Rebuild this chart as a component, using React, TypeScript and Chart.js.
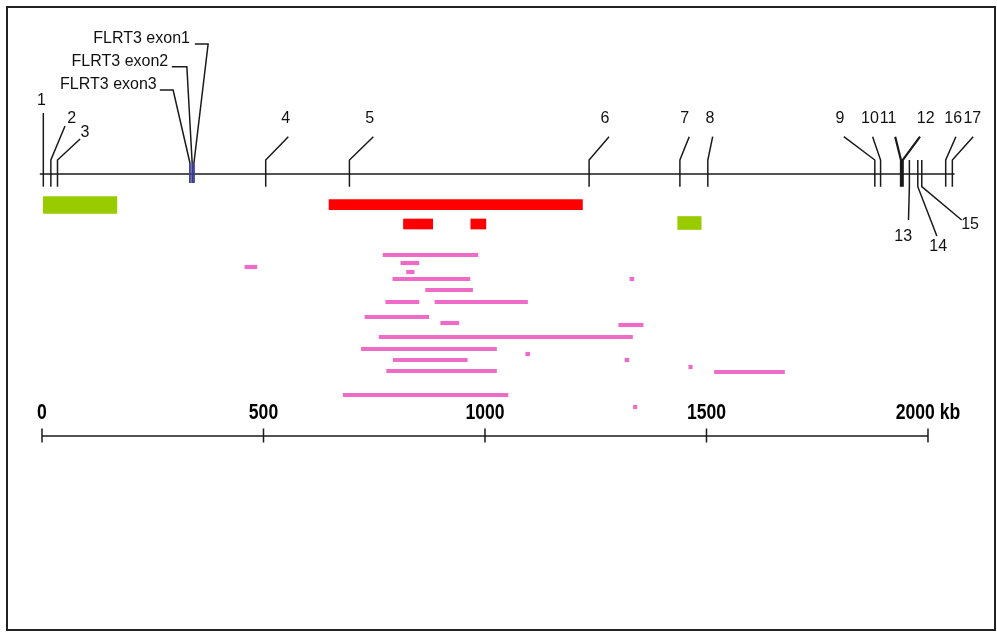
import React, { useEffect, useRef } from "react";
import { Chart, registerables } from "chart.js";
Chart.register(...registerables);

// ---- scale ranges (kb along x, track lanes along y) ----
const KB_MIN = -94.8;
const KB_MAX = 2155.8;
const LANE_MIN = 0;
const LANE_MAX = 63.5;

// ---- backbone ----
const backboneKb = [-5, 2060];
const backboneLane = 17.4;

// ---- numbered markers ----
const markerNames = ["1", "2", "3", "4", "5", "6", "7", "8", "9", "10", "11", "12", "13", "14", "15", "16", "17"];
const markerKb = [3, 20, 35, 505, 694, 1235, 1440, 1503, 1880, 1893, 1939, 1943, 1958, 1977, 1986, 2040, 2055];
const markerTipKb = [3, 52, 86, 556, 748, 1280, 1461, 1514, 1810, 1875, 1926, 1982, 1956, 2020, 2076, 2063, 2102];
const markerLabelKb = [-1, 67, 97, 550, 740, 1271, 1451, 1508, 1801, 1869, 1910, 1995, 1944, 2023, 2095, 2057, 2100];
const markerSide = ["up", "up", "up", "up", "up", "up", "up", "up", "up", "up", "up", "up", "down", "down", "down", "up", "up"];
const markerTipLane = [11.3, 12.6, 13.9, 13.67, 13.67, 13.67, 13.67, 13.67, 13.67, 13.67, 13.67, 13.67, 22.0, 23.6, 22.0, 13.67, 13.67];
const markerLabelLane = [10.1, 11.9, 13.25, 11.9, 11.9, 11.9, 11.9, 11.9, 11.9, 11.9, 11.9, 11.9, 23.7, 24.7, 22.5, 11.9, 11.9];
const stemTopLane = 16.0;
const stemBottomLane = 18.67;

// ---- FLRT3 exons ----
const exonNames = ["FLRT3 exon1", "FLRT3 exon2", "FLRT3 exon3"];
const exonKb = [343, 339, 334];
const exonElbowKb = [375, 327, 296];
const exonLeaderEndKb = [345, 293, 266];
const exonLabelKb = [334, 285, 259];
const exonLeaderLane = [4.4, 6.67, 9.0];
const exonTopLane = 16.3;
const exonBottomLane = 18.3;

// ---- bars (kb ranges) ----
const greenWideStart = [3];
const greenWideEnd = [169];
const greenWideLane = [20.5];
const greenSmallStart = [1435];
const greenSmallEnd = [1488];
const greenSmallLane = [22.3];
const redStart = [648, 816, 968];
const redEnd = [1220, 882, 1002];
const redLane = [20.47, 22.4, 22.4];
const pinkStart = [770, 810, 458, 823, 792, 1327, 866, 776, 887, 729, 900, 1302, 761, 721, 1092, 793, 1316, 778, 1460, 1518, 680, 1335];
const pinkEnd = [984, 851, 485, 840, 966, 1336, 972, 851, 1096, 873, 941, 1357, 1333, 1026, 1101, 960, 1325, 1026, 1468, 1676, 1052, 1343];
const pinkLane = [25.5, 26.3, 26.7, 27.2, 27.9, 27.9, 29.0, 30.2, 30.2, 31.7, 32.3, 32.5, 33.7, 34.9, 35.4, 36.0, 36.0, 37.1, 36.7, 37.2, 39.5, 40.7];

// ---- kb scale bar ----
const axisTicks = [0, 500, 1000, 1500, 2000];
const axisTickLabels = ["0", "500", "1000", "1500", "2000 kb"];
const axisLane = 43.6;
const axisTickTop = 42.85;
const axisTickBottom = 44.25;
const axisLabelLane = 41.3;

const toBars = (s: number[], e: number[], l: number[]) => s.map((v, i) => ({ x: [v, e[i]], y: l[i] }));

const mapPlugin = {
  id: "genomeMap",
  afterDatasetsDraw(chart: any) {
    const ctx = chart.ctx as CanvasRenderingContext2D;
    const xs = chart.scales.x;
    const ys = chart.scales.y;
    const X = (v: number) => xs.getPixelForValue(v);
    const Y = (v: number) => ys.getPixelForValue(v);
    ctx.save();
    ctx.lineCap = "butt";
    // backbone
    ctx.strokeStyle = "#1a1a1a";
    ctx.lineWidth = 1.6;
    ctx.beginPath();
    ctx.moveTo(X(backboneKb[0]), Y(backboneLane));
    ctx.lineTo(X(backboneKb[1]), Y(backboneLane));
    ctx.stroke();

    // markers
    ctx.font = "16px 'Liberation Sans', Arial, sans-serif";
    ctx.fillStyle = "#111";
    ctx.textAlign = "center";
    ctx.textBaseline = "middle";
    markerNames.forEach((name, i) => {
      const x = X(markerKb[i]);
      const thick = name === "11" || name === "12";
      ctx.lineWidth = thick ? 2.2 : 1.5;
      ctx.strokeStyle = "#1a1a1a";
      ctx.beginPath();
      if (markerSide[i] === "up") {
        ctx.moveTo(x, Y(stemBottomLane));
        ctx.lineTo(x, Y(stemTopLane));
        ctx.lineTo(X(markerTipKb[i]), Y(markerTipLane[i]));
      } else {
        ctx.moveTo(x, Y(stemTopLane));
        ctx.lineTo(x, Y(stemBottomLane));
        ctx.lineTo(X(markerTipKb[i]), Y(markerTipLane[i]));
      }
      ctx.stroke();
      ctx.fillText(name, X(markerLabelKb[i]), Y(markerLabelLane[i]));
    });

    // exons
    exonNames.forEach((name, i) => {
      const x = X(exonKb[i]);
      ctx.strokeStyle = "#1a1a1a";
      ctx.lineWidth = 1.5;
      ctx.beginPath();
      ctx.moveTo(x, Y(exonTopLane));
      ctx.lineTo(X(exonElbowKb[i]), Y(exonLeaderLane[i]));
      ctx.lineTo(X(exonLeaderEndKb[i]), Y(exonLeaderLane[i]));
      ctx.stroke();
      ctx.strokeStyle = "#3b3b8f";
      ctx.lineWidth = 1.8;
      ctx.beginPath();
      ctx.moveTo(x, Y(exonTopLane));
      ctx.lineTo(x, Y(exonBottomLane));
      ctx.stroke();
      ctx.textAlign = "right";
      ctx.textBaseline = "alphabetic";
      ctx.fillStyle = "#111";
      ctx.fillText(name, X(exonLabelKb[i]), Y(exonLeaderLane[i]) - 1);
    });

    // kb axis
    ctx.strokeStyle = "#1a1a1a";
    ctx.lineWidth = 1.5;
    ctx.beginPath();
    ctx.moveTo(X(axisTicks[0]), Y(axisLane));
    ctx.lineTo(X(axisTicks[axisTicks.length - 1]), Y(axisLane));
    axisTicks.forEach((t) => {
      ctx.moveTo(X(t), Y(axisTickTop));
      ctx.lineTo(X(t), Y(axisTickBottom));
    });
    ctx.stroke();
    ctx.font = "bold 22px 'Liberation Sans', Arial, sans-serif";
    ctx.fillStyle = "#000";
    ctx.textAlign = "center";
    ctx.textBaseline = "middle";
    const squeeze = 0.8;
    axisTicks.forEach((t, i) => {
      ctx.save();
      ctx.translate(X(t), Y(axisLabelLane));
      ctx.scale(squeeze, 1);
      ctx.fillText(axisTickLabels[i], 0, 0);
      ctx.restore();
    });
    ctx.restore();
  },
};

export default function App() {
  const ref = useRef<HTMLCanvasElement>(null);
  useEffect(() => {
    if (!ref.current) return;
    const chart = new Chart(ref.current, {
      type: "bar",
      data: {
        datasets: [
          { data: toBars(greenWideStart, greenWideEnd, greenWideLane) as any, backgroundColor: "#99cc00", barThickness: 17, grouped: false, borderWidth: 0 },
          { data: toBars(greenSmallStart, greenSmallEnd, greenSmallLane) as any, backgroundColor: "#99cc00", barThickness: 13, grouped: false, borderWidth: 0 },
          { data: toBars(redStart, redEnd, redLane) as any, backgroundColor: "#ff0000", barThickness: 10, grouped: false, borderWidth: 0 },
          { data: toBars(pinkStart, pinkEnd, pinkLane) as any, backgroundColor: "#ee6cc8", barThickness: 3.5, grouped: false, borderWidth: 0 },
        ],
      },
      options: {
        indexAxis: "y",
        animation: false,
        responsive: false,
        maintainAspectRatio: false,
        devicePixelRatio: 1,
        layout: { padding: 0 },
        events: [],
        scales: {
          x: { type: "linear", min: KB_MIN, max: KB_MAX, display: false, offset: false },
          y: { type: "linear", min: LANE_MIN, max: LANE_MAX, reverse: true, display: false, offset: false },
        },
        plugins: { legend: { display: false }, tooltip: { enabled: false } },
      } as any,
      plugins: [mapPlugin],
    });
    return () => chart.destroy();
  }, []);
  return (
    <div style={{ position: "absolute", left: 0, top: 0, width: 997, height: 635, background: "#fff" }}>
      <canvas ref={ref} width={997} height={635} style={{ display: "block", position: "absolute", left: 0, top: 0 }} />
      <div
        style={{
          position: "absolute",
          left: 6,
          top: 6,
          width: 990,
          height: 625,
          border: "2px solid #222",
          boxSizing: "border-box",
          pointerEvents: "none",
        }}
      />
    </div>
  );
}
